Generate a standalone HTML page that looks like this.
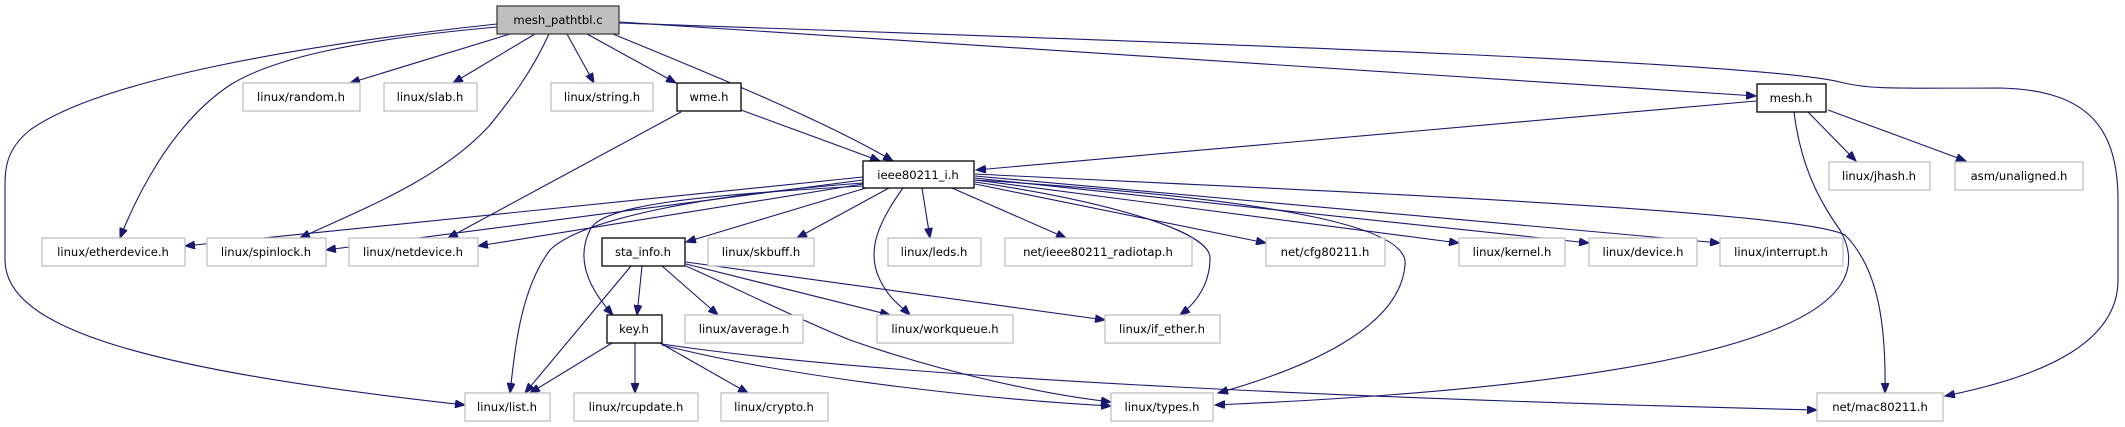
<!DOCTYPE html>
<html><head><meta charset="utf-8"><style>
html,body{margin:0;padding:0;background:#fff;}
svg{display:block}
text{font-family:"DejaVu Sans","Liberation Sans",sans-serif;font-size:11.6px;fill:#000;text-anchor:middle;dominant-baseline:central}
.g{fill:#fff;stroke:#bfbfbf;stroke-width:1.3}
.b{fill:#fff;stroke:#000;stroke-width:1.3}
path{fill:none;stroke:#191970;stroke-width:1.1}
</style></head><body>
<svg width="2125" height="427" viewBox="0 0 2125 427" xmlns="http://www.w3.org/2000/svg">
<defs><marker id="a" markerWidth="11" markerHeight="8" refX="10" refY="4" orient="auto" markerUnits="userSpaceOnUse"><path d="M0,0 L10,4 L0,8 Z" style="fill:#191970;stroke:#191970;stroke-width:1"/></marker></defs>
<g marker-end="url(#a)">
<path d="M510,34 L350,83"/>
<path d="M535,34 L453,83"/>
<path d="M567,34 L594,83"/>
<path d="M587,34 L676,83"/>
<path d="M613,34 C700,70 820,118 893,161"/>
<path d="M619,22 L1756,96"/>
<path d="M619,23 C1100,40 1750,60 1840,82 C1870,90 1900,88 2000,88 C2080,90 2118,120 2118,200 L2118,280 C2118,340 2050,375 1945,396"/>
<path d="M497,24 C300,45 100,80 30,130 C5,150 5,170 5,190 L5,260 C5,330 150,370 465,405"/>
<path d="M497,27 C350,40 270,60 230,85 C170,125 135,200 120,238"/>
<path d="M549,34 C530,75 510,100 490,125 C440,180 360,210 300,238"/>
<path d="M741,110 L880,161"/>
<path d="M681,112 L448,238"/>
<path d="M1756,101 L976,170"/>
<path d="M1808,112 L1856,161"/>
<path d="M1828,110 L1966,161"/>
<path d="M1794,112 C1800,160 1815,195 1840,230 C1880,300 1800,380 1215,405"/>
<path d="M863,177 L185,246"/>
<path d="M863,180 L326,250"/>
<path d="M863,184 L478,246"/>
<path d="M866,188 L686,242"/>
<path d="M889,188 L797,238"/>
<path d="M922,188 L930,238"/>
<path d="M952,188 L1066,238"/>
<path d="M975,184 L1266,243"/>
<path d="M975,180 L1459,243"/>
<path d="M975,178 L1589,243"/>
<path d="M975,176 L1720,243"/>
<path d="M975,174 C1300,190 1800,210 1845,235 C1880,270 1886,330 1885,393"/>
<path d="M975,180 C1300,200 1410,230 1405,265 C1400,330 1300,370 1218,393"/>
<path d="M975,182 C1100,200 1210,230 1210,258 C1210,280 1200,300 1180,315"/>
<path d="M903,188 C880,220 865,250 880,280 C890,300 900,305 910,315"/>
<path d="M863,186 C700,195 600,205 590,230 C575,260 590,290 613,315"/>
<path d="M863,183 C700,195 580,220 550,250 C520,290 515,350 510,393"/>
<path d="M642,266 L637,315"/>
<path d="M631,266 L525,393"/>
<path d="M662,266 L718,315"/>
<path d="M686,264 L890,315"/>
<path d="M686,262 L1105,320"/>
<path d="M686,266 C740,290 800,320 850,340 C950,375 1050,395 1111,402"/>
<path d="M612,343 L530,393"/>
<path d="M635,343 L635,393"/>
<path d="M660,343 L748,393"/>
<path d="M662,345 C800,380 1000,400 1111,406"/>
<path d="M662,344 C900,380 1400,400 1817,410"/>
</g>
<rect x="497" y="6" width="122" height="28" style="fill:#bfbfbf;stroke:#404040;stroke-width:1.3"/><text x="558" y="20">mesh_pathtbl.c</text>
<rect class="g" x="243" y="83" width="117" height="28"/><text x="301" y="97">linux/random.h</text>
<rect class="g" x="384" y="83" width="93" height="28"/><text x="430" y="97">linux/slab.h</text>
<rect class="g" x="551" y="83" width="102" height="28"/><text x="602" y="97">linux/string.h</text>
<rect class="b" x="677" y="83" width="64" height="28"/><text x="709" y="97">wme.h</text>
<rect class="b" x="1757" y="84" width="69" height="28"/><text x="1791" y="98">mesh.h</text>
<rect class="b" x="863" y="161" width="111" height="27"/><text x="918" y="175">ieee80211_i.h</text>
<rect class="g" x="1829" y="162" width="101" height="28"/><text x="1879" y="176">linux/jhash.h</text>
<rect class="g" x="1955" y="162" width="128" height="28"/><text x="2019" y="176">asm/unaligned.h</text>
<rect class="g" x="42" y="238" width="143" height="28"/><text x="113" y="252">linux/etherdevice.h</text>
<rect class="g" x="207" y="238" width="119" height="28"/><text x="266" y="252">linux/spinlock.h</text>
<rect class="g" x="349" y="238" width="129" height="28"/><text x="413" y="252">linux/netdevice.h</text>
<rect class="b" x="602" y="238" width="83" height="28"/><text x="643" y="252">sta_info.h</text>
<rect class="g" x="708" y="238" width="106" height="28"/><text x="761" y="252">linux/skbuff.h</text>
<rect class="g" x="888" y="238" width="93" height="28"/><text x="934" y="252">linux/leds.h</text>
<rect class="g" x="1005" y="238" width="187" height="28"/><text x="1098" y="252">net/ieee80211_radiotap.h</text>
<rect class="g" x="1266" y="238" width="119" height="28"/><text x="1325" y="252">net/cfg80211.h</text>
<rect class="g" x="1459" y="238" width="106" height="28"/><text x="1512" y="252">linux/kernel.h</text>
<rect class="g" x="1589" y="238" width="108" height="28"/><text x="1643" y="252">linux/device.h</text>
<rect class="g" x="1720" y="238" width="123" height="28"/><text x="1781" y="252">linux/interrupt.h</text>
<rect class="b" x="607" y="315" width="55" height="28"/><text x="634" y="329">key.h</text>
<rect class="g" x="685" y="315" width="118" height="28"/><text x="744" y="329">linux/average.h</text>
<rect class="g" x="877" y="315" width="136" height="28"/><text x="945" y="329">linux/workqueue.h</text>
<rect class="g" x="1105" y="315" width="115" height="28"/><text x="1162" y="329">linux/if_ether.h</text>
<rect class="g" x="465" y="393" width="85" height="28"/><text x="507" y="407">linux/list.h</text>
<rect class="g" x="574" y="393" width="124" height="28"/><text x="636" y="407">linux/rcupdate.h</text>
<rect class="g" x="721" y="393" width="107" height="28"/><text x="774" y="407">linux/crypto.h</text>
<rect class="g" x="1111" y="393" width="102" height="28"/><text x="1162" y="407">linux/types.h</text>
<rect class="g" x="1817" y="393" width="126" height="28"/><text x="1880" y="407">net/mac80211.h</text>
</svg>
</body></html>
